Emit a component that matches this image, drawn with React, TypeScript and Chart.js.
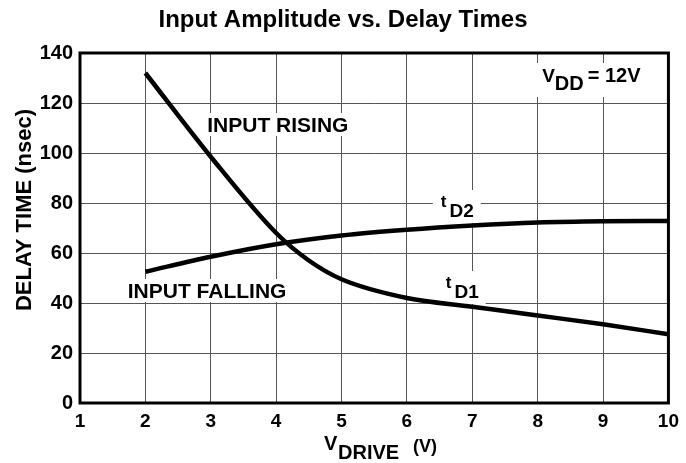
import React, { useEffect, useRef } from "react";
import { Chart, registerables } from "chart.js";

Chart.register(...registerables);

const titleText = "Input Amplitude vs. Delay Times";
const xTicks = [1, 2, 3, 4, 5, 6, 7, 8, 9, 10];
const yTicks = [0, 20, 40, 60, 80, 100, 120, 140];

const td1X = [2, 3, 4, 4.5, 5, 6, 7, 8, 9, 10];
const td1Y = [132, 98.5, 68, 57, 49.5, 42, 38.5, 35, 31.5, 27.5];

const td2X = [2, 3, 4, 5, 6, 7, 8, 9, 10];
const td2Y = [52.5, 58.5, 63.5, 67, 69.3, 71, 72.2, 72.7, 72.8];

const FONT = "'Liberation Sans', Arial, Helvetica, sans-serif";

export default function App() {
  const ref = useRef<HTMLCanvasElement | null>(null);

  useEffect(() => {
    document.body.style.margin = "0";
    const canvas = ref.current;
    if (!canvas) return;

    const box = (ctx: CanvasRenderingContext2D, x: number, y: number, w: number, h: number) => {
      ctx.fillStyle = "#fff";
      ctx.fillRect(x, y, w, h);
    };

    const annot = {
      id: "annot",
      beforeDatasetsDraw(chart: any) {
        const ctx = chart.ctx as CanvasRenderingContext2D;
        const xs = chart.scales.x;
        const ys = chart.scales.y;
        ctx.save();
        ctx.textBaseline = "alphabetic";
        ctx.textAlign = "left";
        // INPUT RISING
        ctx.font = `bold 21px ${FONT}`;
        let px = xs.getPixelForValue(2.946);
        let py = ys.getPixelForValue(108.4);
        let w = ctx.measureText("INPUT RISING").width;
        box(ctx, px - 3, py - 19, w + 6, 23);
        ctx.fillStyle = "#000";
        ctx.fillText("INPUT RISING", px, py);
        // INPUT FALLING
        px = xs.getPixelForValue(1.73);
        py = ys.getPixelForValue(42);
        w = ctx.measureText("INPUT FALLING").width;
        box(ctx, px - 3, py - 19, w + 6, 23);
        ctx.fillStyle = "#000";
        ctx.fillText("INPUT FALLING", px, py);
        // t_D labels
        const sub = (label: string, sx: number, sy: number) => {
          ctx.font = `bold 17px ${FONT}`;
          const tw = ctx.measureText("t").width;
          ctx.font = `bold 19px ${FONT}`;
          const dw = ctx.measureText(label).width;
          box(ctx, sx - 8, sy - 17, tw + dw + 18, 33);
          ctx.fillStyle = "#000";
          ctx.font = `bold 17px ${FONT}`;
          ctx.fillText("t", sx, sy);
          ctx.font = `bold 19px ${FONT}`;
          ctx.fillText(label, sx + tw + 3, sy + 10);
        };
        sub("D2", xs.getPixelForValue(6.518), ys.getPixelForValue(78.4));
        sub("D1", xs.getPixelForValue(6.594), ys.getPixelForValue(46));
        // VDD
        {
          const vx = xs.getPixelForValue(8.069);
          const vy = ys.getPixelForValue(128.4);
          ctx.font = `bold 19px ${FONT}`;
          const vW = ctx.measureText("V").width;
          ctx.font = `bold 20px ${FONT}`;
          const ddW = ctx.measureText("DD").width;
          box(ctx, vx - 10, vy - 19, 115, 34);
          ctx.fillStyle = "#000";
          ctx.font = `bold 19px ${FONT}`;
          ctx.fillText("V", vx, vy);
          ctx.font = `bold 20px ${FONT}`;
          ctx.fillText("DD", vx + vW, vy + 8);
          ctx.fillText("= 12V", vx + vW + ddW + 4, vy);
        }
        ctx.restore();
      },
      afterDraw(chart: any) {
        const ctx = chart.ctx as CanvasRenderingContext2D;
        const a = chart.chartArea;
        ctx.save();
        ctx.strokeStyle = "#000";
        ctx.lineWidth = 3;
        ctx.strokeRect(a.left, a.top, a.right - a.left, a.bottom - a.top);
        // title
        ctx.fillStyle = "#000";
        ctx.textAlign = "center";
        ctx.textBaseline = "alphabetic";
        ctx.font = `bold 24px ${FONT}`;
        ctx.fillText(titleText, 343, 27);
        // y title
        ctx.save();
        ctx.translate(31, 210);
        ctx.rotate(-Math.PI / 2);
        ctx.font = `bold 22px ${FONT}`;
        ctx.fillText("DELAY TIME (nsec)", 0, 0);
        ctx.restore();
        // x title
        ctx.textAlign = "left";
        ctx.font = `bold 20px ${FONT}`;
        ctx.fillText("V", 324, 450);
        ctx.fillText("DRIVE", 338, 459);
        ctx.font = `bold 18px ${FONT}`;
        ctx.fillText("(V)", 413, 452);
        ctx.restore();
      },
    };

    const chart = new Chart(canvas, {
      type: "line",
      data: {
        datasets: [
          {
            label: "tD1",
            data: td1X.map((x, i) => ({ x, y: td1Y[i] })),
            borderColor: "#000",
            borderWidth: 4.5,
            pointRadius: 0,
            cubicInterpolationMode: "monotone",
            fill: false,
          },
          {
            label: "tD2",
            data: td2X.map((x, i) => ({ x, y: td2Y[i] })),
            borderColor: "#000",
            borderWidth: 4.5,
            pointRadius: 0,
            cubicInterpolationMode: "monotone",
            fill: false,
          },
        ],
      },
      options: {
        animation: false,
        responsive: false,
        events: [],
        layout: { padding: { left: 0, top: 53, right: 14, bottom: 0 } },
        plugins: { legend: { display: false }, tooltip: { enabled: false }, title: { display: false } },
        scales: {
          x: {
            type: "linear",
            min: 1,
            max: 10,
            afterFit: (s: any) => {
              s.height = 60;
            },
            afterBuildTicks: (s: any) => {
              s.ticks = xTicks.map((v) => ({ value: v }));
            },
            ticks: {
              color: "#000",
              font: { family: FONT, size: 19, weight: "bold" },
              padding: 7,
              maxRotation: 0,
            },
            grid: { color: "#555", lineWidth: 1, drawTicks: false },
            border: { display: false },
          },
          y: {
            type: "linear",
            min: 0,
            max: 140,
            afterFit: (s: any) => {
              s.width = 80;
            },
            afterBuildTicks: (s: any) => {
              s.ticks = yTicks.map((v) => ({ value: v }));
            },
            ticks: {
              color: "#000",
              font: { family: FONT, size: 20, weight: "bold" },
              padding: 7,
            },
            grid: { color: "#555", lineWidth: 1, drawTicks: false },
            border: { display: false },
          },
        },
      },
      plugins: [annot],
    } as any);

    return () => chart.destroy();
  }, []);

  return <canvas ref={ref} width={686} height={463} style={{ display: "block" }} />;
}
